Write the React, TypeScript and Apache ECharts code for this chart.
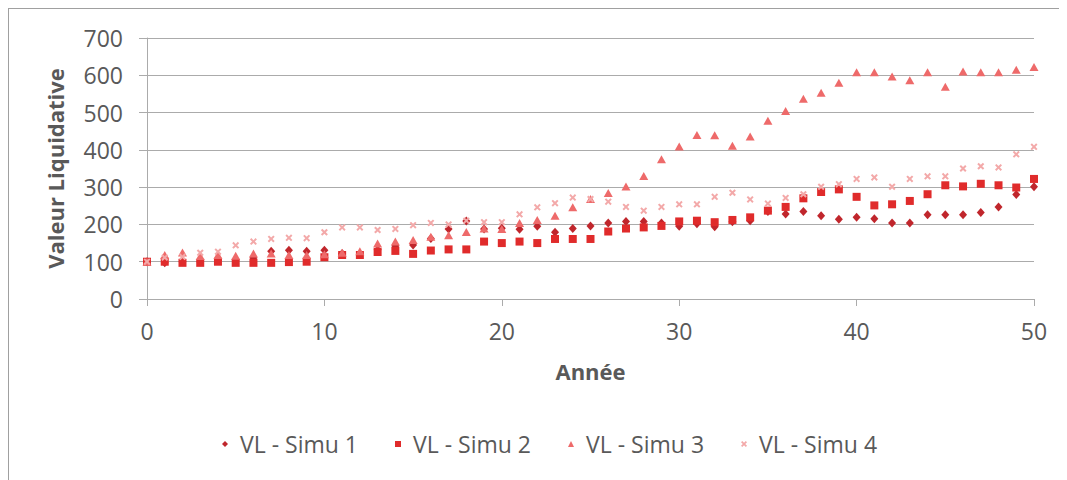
import React, { useEffect, useRef } from "react";
import * as echarts from "echarts";

// Années de simulation (axe des abscisses)
const years = [
  0, 1, 2, 3, 4, 5, 6, 7, 8, 9, 10, 11, 12, 13, 14, 15, 16, 17, 18, 19, 20,
  21, 22, 23, 24, 25, 26, 27, 28, 29, 30, 31, 32, 33, 34, 35, 36, 37, 38, 39,
  40, 41, 42, 43, 44, 45, 46, 47, 48, 49, 50,
];

// Valeur liquidative de chaque simulation, année par année
const simu1 = [
  100, 97, 100, 100, 104, 105, 110, 128, 131, 128, 131, 122, 120, 132, 142,
  145, 162, 188, 209, 188, 190, 187, 195, 179, 189, 196, 204, 208, 208, 204,
  195, 202, 194, 207, 210, 235, 228, 235, 223, 214, 219, 215, 204, 204, 226,
  226, 226, 232, 247, 280, 301,
];
const simu2 = [
  100, 100, 97, 97, 100, 97, 97, 97, 99, 100, 112, 118, 118, 126, 129, 121,
  130, 133, 133, 154, 150, 154, 150, 161, 161, 161, 181, 189, 192, 196, 208,
  210, 206, 212, 219, 237, 247, 270, 287, 294, 274, 251, 254, 263, 281, 305,
  302, 309, 305, 299, 322,
];
const simu3 = [
  100, 118, 125, 115, 118, 116, 122, 122, 118, 118, 120, 124, 128, 149, 154,
  158, 167, 171, 180, 189, 188, 204, 212, 223, 246, 268, 284, 302, 330, 375,
  409, 440, 439, 411, 436, 478, 504, 537, 553, 580, 608, 608, 597, 587, 608,
  569, 610, 608, 608, 615, 622,
];
const simu4 = [
  100, 111, 113, 124, 127, 144, 154, 161, 164, 163, 179, 192, 192, 185, 188,
  198, 204, 200, 210, 206, 206, 227, 246, 257, 272, 268, 261, 247, 237, 247,
  254, 254, 274, 285, 267, 256, 271, 281, 301, 308, 322, 326, 301, 322, 329,
  329, 350, 356, 353, 388, 408,
];

const seriesNames = ["VL - Simu 1", "VL - Simu 2", "VL - Simu 3", "VL - Simu 4"];
const yTicks = { min: 0, max: 700, interval: 100 };
const xTicks = { min: 0, max: 50, interval: 10 };

const TEXT = "#595959";
const LINE = "#ababab";
const FONT = "'Open Sans', 'Noto Sans', sans-serif";

// Croix pleine pour la simulation 4
const CROSS =
  "path://M0,2 L2,0 L5,3 L8,0 L10,2 L7,5 L10,8 L8,10 L5,7 L2,10 L0,8 L3,5 Z";

const toPoints = (values: number[]) => years.map((y, i) => [y, values[i]]);

export default function App() {
  const ref = useRef<HTMLDivElement>(null);

  useEffect(() => {
    if (!ref.current) return;
    const chart = echarts.init(ref.current, null, { renderer: "svg" });

    const scatter = (
      name: string,
      values: number[],
      symbol: string,
      size: number | number[],
      color: string
    ) => ({
      type: "scatter",
      name,
      data: toPoints(values),
      symbol,
      symbolSize: size,
      itemStyle: { color, opacity: 1 },
      emphasis: { disabled: true },
    });

    chart.setOption({
      animation: false,
      textStyle: { fontFamily: FONT },
      grid: { left: 138, right: 26, top: 29, bottom: 188 },
      xAxis: {
        type: "value",
        min: xTicks.min,
        max: xTicks.max,
        interval: xTicks.interval,
        name: "Année",
        nameLocation: "middle",
        nameGap: 61,
        nameTextStyle: {
          color: TEXT,
          fontSize: 22,
          fontWeight: "bold",
          fontFamily: FONT,
        },
        axisLine: { show: true, lineStyle: { color: LINE, width: 1 } },
        axisTick: { show: true, length: 7, lineStyle: { color: LINE } },
        axisLabel: { color: TEXT, fontSize: 23, fontFamily: FONT, margin: 20 },
        splitLine: { show: false },
      },
      yAxis: {
        type: "value",
        min: yTicks.min,
        max: yTicks.max,
        interval: yTicks.interval,
        name: "Valeur Liquidative",
        nameLocation: "middle",
        nameRotate: 90,
        nameGap: 81,
        nameTextStyle: {
          color: TEXT,
          fontSize: 22,
          fontWeight: "bold",
          fontFamily: FONT,
        },
        axisLine: { show: true, lineStyle: { color: LINE, width: 1 } },
        axisTick: { show: true, length: 8, lineStyle: { color: LINE } },
        axisLabel: { color: TEXT, fontSize: 23, fontFamily: FONT, margin: 24 },
        splitLine: { show: true, lineStyle: { color: LINE, width: 1 } },
      },
      legend: {
        left: 208,
        top: 417,
        itemWidth: 6,
        itemHeight: 6,
        itemGap: 37,
        symbolKeepAspect: true,
        textStyle: {
          color: TEXT,
          fontSize: 23,
          fontFamily: FONT,
          lineHeight: 26,
          padding: [0, 0, 0, 7],
        },
        data: seriesNames,
      },
      series: [
        scatter(seriesNames[0], simu1, "diamond", [8, 9], "#c0262c"),
        scatter(seriesNames[1], simu2, "rect", 8, "#e02b2b"),
        scatter(seriesNames[2], simu3, "triangle", [9, 8], "#ee6a6a"),
        scatter(seriesNames[3], simu4, CROSS, 7, "#f3a9a9"),
      ],
    });

    return () => chart.dispose();
  }, []);

  return (
    <div
      style={{
        width: 1053,
        height: 480,
        boxSizing: "border-box",
        border: "1px solid #a0a0a0",
        background: "#fff",
      }}
    >
      <div ref={ref} style={{ width: "100%", height: "100%" }} />
    </div>
  );
}
